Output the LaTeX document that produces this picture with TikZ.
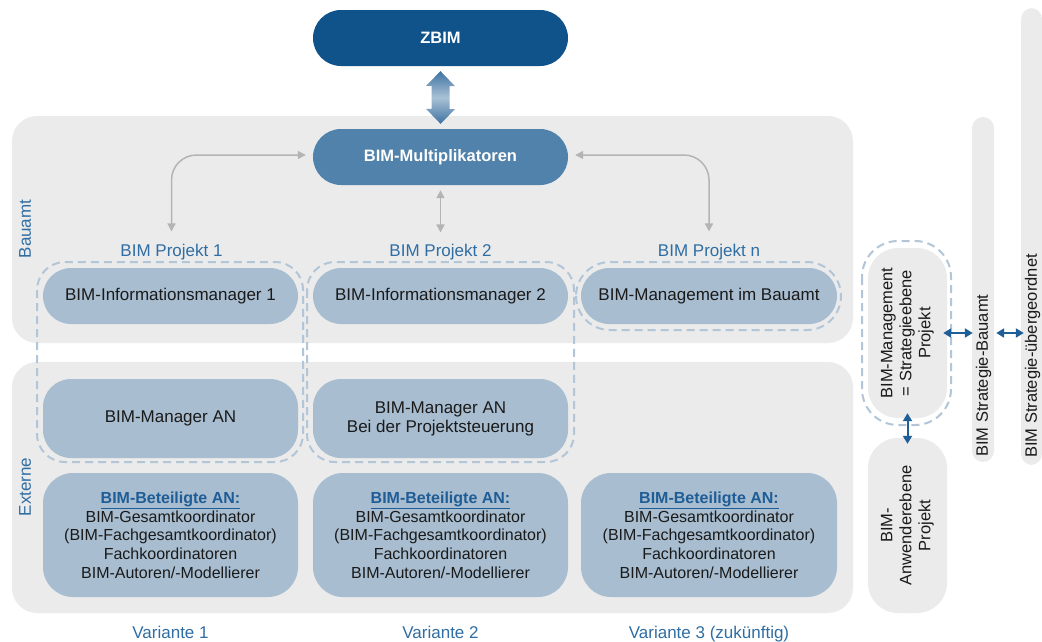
\documentclass[tikz,border=0pt]{standalone}
\usepackage{fontspec}
\setmainfont{Liberation Sans}
\usetikzlibrary{arrows.meta,calc}
\definecolor{cZbim}{HTML}{10528A}
\definecolor{cMult}{HTML}{5082AB}
\definecolor{cLight}{HTML}{A8BDD0}
\definecolor{cPanel}{HTML}{EBEBEB}
\definecolor{cDash}{HTML}{B2C6D8}
\definecolor{cLbl}{HTML}{2F6DA3}
\definecolor{cTitle}{HTML}{1F5D96}
\definecolor{cText}{HTML}{1A1A1A}
\definecolor{cGArrow}{HTML}{B4B4B4}
\definecolor{cBArrow}{HTML}{1F5E96}
\definecolor{cArrDark}{HTML}{3F73A2}
\definecolor{cArrLight}{HTML}{A9C1D6}
\begin{document}
\begin{tikzpicture}[x=1pt,y=-1pt,
  panel/.style={fill=cPanel, rounded corners=25pt},
  dgroup/.style={draw=cDash, line width=2pt, dash pattern=on 8pt off 5pt},
  topbox/.style={rounded corners=28pt, minimum width=255pt, minimum height=56pt, inner sep=0pt, text=white, font=\fontsize{16.5}{19}\selectfont\bfseries},
  lbox/.style={fill=cLight, text=cText, rounded corners=28pt, minimum width=255pt, inner sep=0pt, align=center},
  onebox/.style={lbox, minimum height=56pt, font=\fontsize{17}{19}\selectfont},
  twobox/.style={lbox, minimum height=79pt, font=\fontsize{17}{19}\selectfont},
  betbox/.style={lbox, minimum height=124pt, rounded corners=30pt, font=\fontsize{16}{18.7}\selectfont},
  gbox/.style={fill=cPanel, rounded corners=30pt, minimum width=79pt, inner sep=0pt},
  gbar/.style={fill=cPanel, rounded corners=11pt, inner sep=0pt},
  lbl/.style={text=cLbl, font=\fontsize{17}{19}\selectfont, inner sep=0pt},
  vtext/.style={rotate=90, text=cText, align=center, font=\fontsize{16.5}{19}\selectfont, inner sep=0pt},
  garrow/.style={draw=cGArrow, line width=1.5pt, arrows={Triangle[width=8pt,length=8pt]-Triangle[width=8pt,length=8pt]}},
  barrow/.style={draw=cBArrow, line width=2pt, arrows={Triangle[width=9pt,length=8pt]-Triangle[width=9pt,length=8pt]}},
]
\useasboundingbox (0,0) rectangle (1042,641);

% panels
\fill[panel] (12,116) rectangle (853,343);
\fill[panel] (12,362) rectangle (853,613);

% dashed groups
\draw[dgroup, rounded corners=28pt] (37,262) rectangle (303,462);
\draw[dgroup, rounded corners=28pt] (307,262) rectangle (574,462);
\draw[dgroup, rounded corners=34pt] (576,262) rectangle (841,330);
\draw[dgroup, rounded corners=36pt] (862,241) rectangle (951,425);

% top nodes
\node[topbox, fill=cZbim] (zbim) at (440.5,38) {ZBIM};
\node[topbox, fill=cMult] (mult) at (440.5,157) {BIM-Multiplikatoren};

% big double arrow
\shade[top color=cArrDark, bottom color=cArrDark, middle color=cArrLight]
  ($(zbim.south)+(0,5)$) -- ++(14.5,15) -- ++(-5.5,0) -- ++(0,23) -- ++(5.5,0)
  -- ($(mult.north)+(0,-5)$) -- ++(-14.5,-15) -- ++(5.5,0) -- ++(0,-23) -- ++(-5.5,0) -- cycle;

% side labels
\node[lbl, rotate=90] (bauamt) at (25,229) {Bauamt};
\node[lbl, rotate=90] (externe) at (25,487) {Externe};

% project labels
\node[lbl, anchor=base] (p1) at (171.5,256) {BIM Projekt 1};
\node[lbl, anchor=base] (p2) at (440.5,256) {BIM Projekt 2};
\node[lbl, anchor=base] (pn) at (709,256) {BIM Projekt n};

% row 1
\node[onebox] (im1) at (170.5,296) {BIM-Informationsmanager 1};
\node[onebox] (im2) at (440.5,296) {BIM-Informationsmanager 2};
\node[onebox, minimum width=256pt] (bmb) at (709,296) {BIM-Management im Bauamt};

% row 2
\node[twobox] (man1) at (170.5,418.5) {BIM-Manager AN};
\node[twobox] (man2) at (440.5,418.5) {BIM-Manager AN\\Bei der Projektsteuerung};

% row 3
\newcommand{\betText}{\textcolor{cTitle}{\underline{\textbf{BIM-Beteiligte AN:}}}\\BIM-Gesamtkoordinator\\(BIM-Fachgesamtkoordinator)\\Fachkoordinatoren\\BIM-Autoren/-Modellierer}
\node[betbox] (bet1) at (170.5,535) {\betText};
\node[betbox] (bet2) at (440.5,535) {\betText};
\node[betbox, minimum width=256pt] (bet3) at (709,535) {\betText};

% variant labels
\node[lbl, anchor=base] (v1) at (170.5,638) {Variante 1};
\node[lbl, anchor=base] (v2) at (440.5,638) {Variante 2};
\node[lbl, anchor=base] (v3) at (709,638) {Variante 3 (zukünftig)};

% right side
\node[gbox, minimum height=170pt] (bmst) at (907.5,333) {};
\node[vtext] (bmsttxt) at (bmst.center) {BIM-Management\\= Strategieebene\\Projekt};
\node[gbox, minimum height=175pt] (anw) at (907.5,525.5) {};
\node[vtext] (anwtxt) at (anw.center) {BIM-\\Anwenderebene\\Projekt};
\node[gbar, minimum width=22pt, minimum height=345pt] (bar1) at (983,289.5) {};
\node[vtext, anchor=west] (bar1txt) at (983.5,457) {BIM Strategie-Bauamt};
\node[gbar, minimum width=21pt, minimum height=457pt] (bar2) at (1031.5,236.5) {};
\node[vtext, anchor=west] (bar2txt) at (1032.5,458) {BIM Strategie-übergeordnet};

% gray connectors
\draw[garrow, rounded corners=25pt, shorten <=7pt, shorten >=12pt] ([yshift=2pt]mult.west) -| (p1.north);
\draw[garrow, rounded corners=25pt, shorten <=7pt, shorten >=12pt] ([yshift=2pt]mult.east) -| (pn.north);
\draw[garrow, shorten <=5pt, shorten >=11pt] (mult.south) -- (p2.north);

% blue connectors
\draw[barrow, shorten <=-4pt, shorten >=-1pt] (bmst.east) -- (bmst.east -| bar1.west);
\draw[barrow, shorten <=2pt, shorten >=-3pt] (bar1.east |- bmst.east) -- (bar2.west |- bmst.east);
\draw[barrow, shorten <=-5pt, shorten >=-6pt] (bmst.south) -- (anw.north);
\end{tikzpicture}
\end{document}
